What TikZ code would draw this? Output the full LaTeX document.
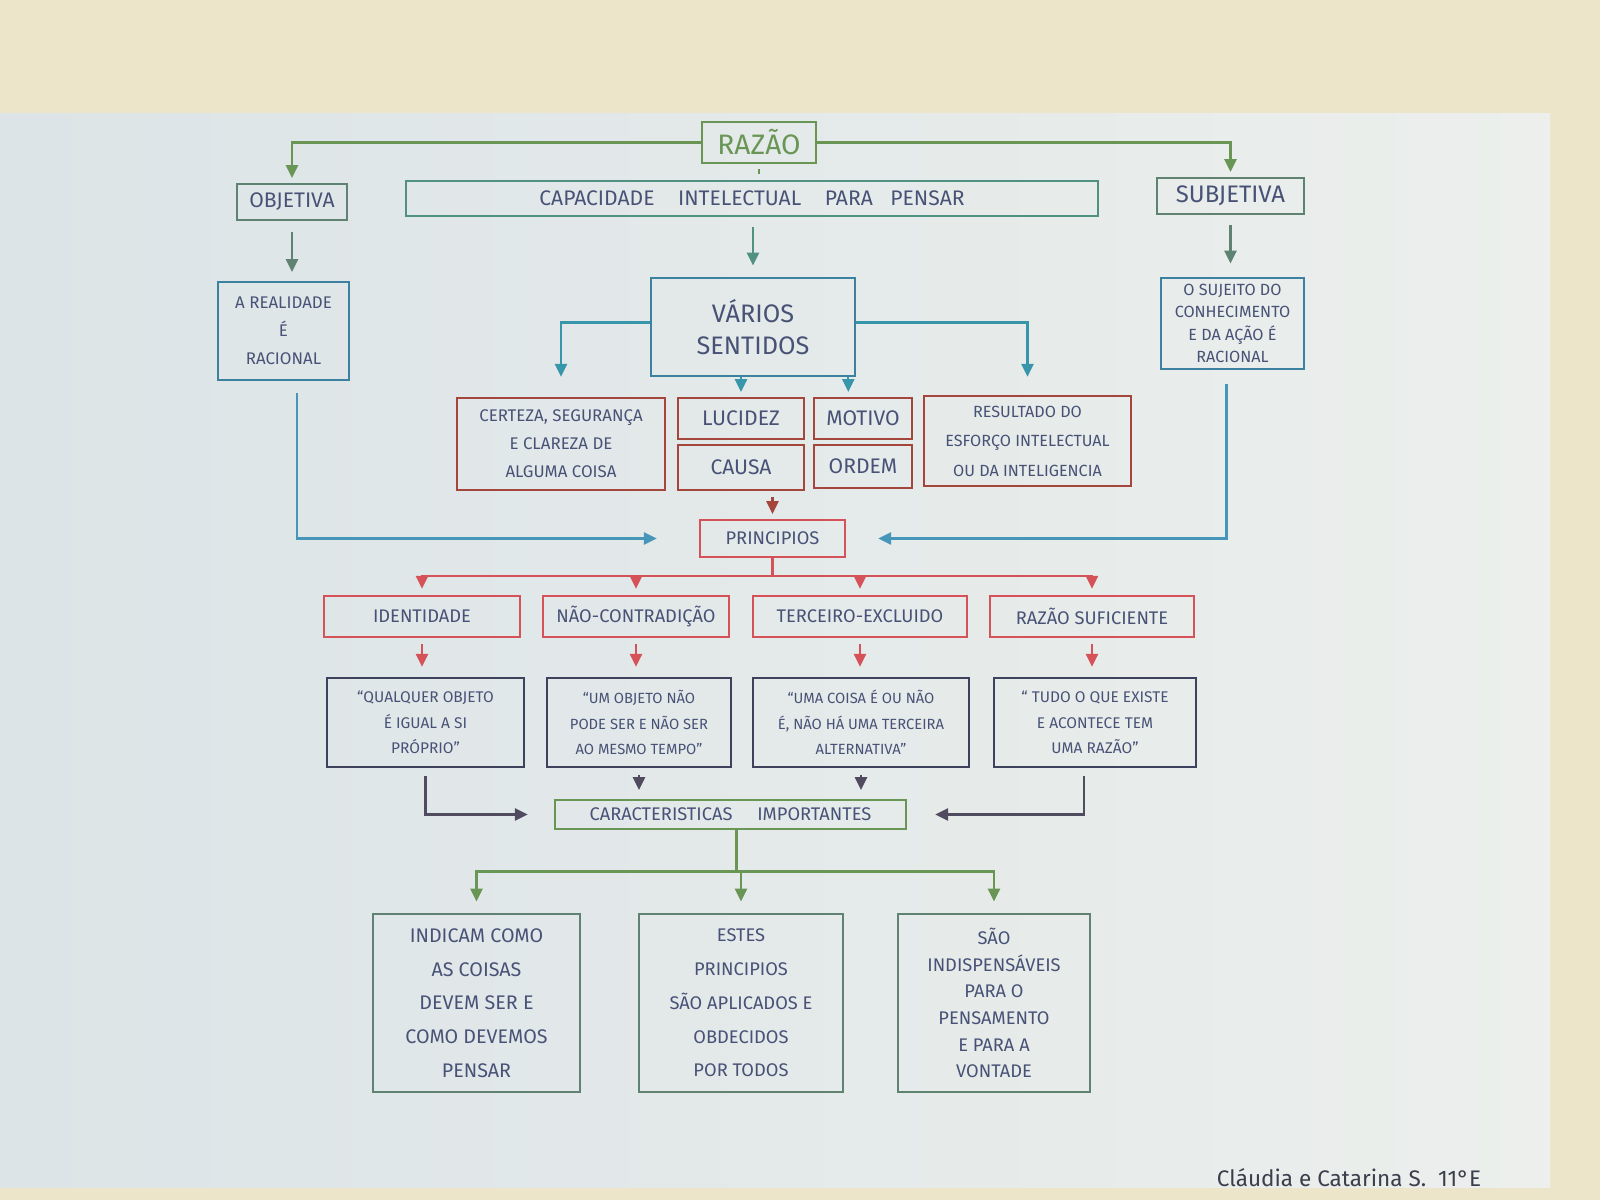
\documentclass[tikz,border=0pt]{standalone}
\usepackage{fontspec}
\setmainfont{Fira Sans}
\usetikzlibrary{arrows.meta}
\definecolor{parede}{RGB}{236,229,202}
\definecolor{folhaA}{RGB}{220,228,231}
\definecolor{folhaB}{RGB}{236,239,236}
\definecolor{tinta}{RGB}{72,82,118}
\definecolor{verde}{RGB}{105,150,85}
\definecolor{verdecinza}{RGB}{95,130,115}
\definecolor{verdeazul}{RGB}{80,145,130}
\definecolor{azul}{RGB}{60,130,160}
\definecolor{ciano}{RGB}{55,150,170}
\definecolor{celeste}{RGB}{70,150,185}
\definecolor{tijolo}{RGB}{165,70,60}
\definecolor{vermelho}{RGB}{212,82,88}
\definecolor{ardosia}{RGB}{62,66,92}
\definecolor{cinza}{RGB}{80,75,95}
\definecolor{assin}{RGB}{60,62,75}
\tikzset{
  caixa/.style={draw, line width=1.8pt, align=center, text=tinta, inner sep=2pt},
  seta/.style={line width=1.7pt, -{Triangle[width=0.3cm,length=0.32cm]}},
  linha/.style={line width=1.7pt},
}
\begin{document}
\begin{tikzpicture}[x=0.025cm, y=-0.025cm]
    % Fundo e folha
    \fill[parede] (0,0) rectangle (1600,1200);
    \shade[left color=folhaA, right color=folhaB] (0,114) rectangle (1550,1187);
    \useasboundingbox (0,0) rectangle (1600,1200);
    % Razão
    \node[caixa, draw=verde, text=verde, minimum width=2.85cm, minimum height=1.025cm, font=\fontsize{20}{24}\selectfont] (razao) at (759,142.5) {RAZÃO};
    \node[caixa, draw=verdecinza, minimum width=2.75cm, minimum height=0.9cm, font=\fontsize{15}{18}\selectfont] (objetiva) at (292,202) {OBJETIVA};
    \node[caixa, draw=verdeazul, minimum width=17.3cm, minimum height=0.875cm, font=\fontsize{15}{18}\selectfont] (capacidade) at (752,198.5) {CAPACIDADE\hspace{0.45cm} INTELECTUAL\hspace{0.45cm} PARA\hspace{0.3cm} PENSAR};
    \node[caixa, draw=verdecinza, minimum width=3.675cm, minimum height=0.9cm, font=\fontsize{17}{20}\selectfont] (subjetiva) at (1230.5,196) {SUBJETIVA};
    % Segunda linha
    \node[caixa, draw=azul, minimum width=3.275cm, minimum height=2.45cm, font=\fontsize{12}{20}\selectfont] (arealidade) at (283.5,331) {A REALIDADE\\ É\\ RACIONAL};
    \node[caixa, draw=azul, minimum width=5.1cm, minimum height=2.45cm, font=\fontsize{18}{23}\selectfont] (varios) at (753,327) {VÁRIOS\\ SENTIDOS};
    \node[caixa, draw=azul, minimum width=3.575cm, minimum height=2.275cm, font=\fontsize{11.5}{16}\selectfont] (sujeito) at (1232.5,323.5) {O SUJEITO DO\\ CONHECIMENTO\\ E DA AÇÃO É\\ RACIONAL};
    % Vários sentidos
    \node[caixa, draw=tijolo, minimum width=5.2cm, minimum height=2.3cm, font=\fontsize{12}{20}\selectfont] (certeza) at (561,444) {CERTEZA, SEGURANÇA\\ E CLAREZA DE\\ ALGUMA COISA};
    \node[caixa, draw=tijolo, minimum width=3.15cm, minimum height=1.025cm, font=\fontsize{15}{18}\selectfont] (lucidez) at (741,418.5) {LUCIDEZ};
    \node[caixa, draw=tijolo, minimum width=2.45cm, minimum height=1.025cm, font=\fontsize{15}{18}\selectfont] (motivo) at (863,418.5) {MOTIVO};
    \node[caixa, draw=tijolo, minimum width=3.15cm, minimum height=1.125cm, font=\fontsize{15}{18}\selectfont] (causa) at (741,467.5) {CAUSA};
    \node[caixa, draw=tijolo, minimum width=2.45cm, minimum height=1.075cm, font=\fontsize{15}{18}\selectfont] (ordem) at (863,466.5) {ORDEM};
    \node[caixa, draw=tijolo, minimum width=5.175cm, minimum height=2.25cm, font=\fontsize{11.5}{21}\selectfont] (resultado) at (1027.5,441) {RESULTADO DO\\ ESFORÇO INTELECTUAL\\ OU DA INTELIGENCIA};
    % Princípios
    \node[caixa, draw=vermelho, minimum width=3.625cm, minimum height=0.925cm, font=\fontsize{13}{16}\selectfont] (principios) at (772.5,538.5) {PRINCIPIOS};
    \node[caixa, draw=vermelho, minimum width=4.9cm, minimum height=1.025cm, font=\fontsize{13}{16}\selectfont] (identidade) at (422,616.5) {IDENTIDADE};
    \node[caixa, draw=vermelho, minimum width=4.65cm, minimum height=1.025cm, font=\fontsize{13}{16}\selectfont] (naocontradicao) at (636,616.5) {NÃO-CONTRADIÇÃO};
    \node[caixa, draw=vermelho, minimum width=5.35cm, minimum height=1.025cm, font=\fontsize{13}{16}\selectfont] (terceiro) at (860,616.5) {TERCEIRO-EXCLUIDO};
    \node[caixa, draw=vermelho, minimum width=5.1cm, minimum height=1.025cm, font=\fontsize{13}{16}\selectfont] (razaosuf) at (1092,616.5) {RAZÃO SUFICIENTE};
    % Enunciados
    \node[caixa, draw=ardosia, minimum width=4.925cm, minimum height=2.225cm, font=\fontsize{11}{18}\selectfont] (q1) at (425.5,722.5) {“QUALQUER OBJETO\\ É IGUAL A SI\\ PRÓPRIO”};
    \node[caixa, draw=ardosia, minimum width=4.6cm, minimum height=2.225cm, font=\fontsize{10.5}{18}\selectfont] (q2) at (639,722.5) {“UM OBJETO NÃO\\ PODE SER E NÃO SER\\ AO MESMO TEMPO”};
    \node[caixa, draw=ardosia, minimum width=5.4cm, minimum height=2.225cm, font=\fontsize{10.5}{18}\selectfont] (q3) at (861,722.5) {“UMA COISA É OU NÃO\\ É, NÃO HÁ UMA TERCEIRA\\ ALTERNATIVA”};
    \node[caixa, draw=ardosia, minimum width=5.05cm, minimum height=2.225cm, font=\fontsize{11}{18}\selectfont] (q4) at (1095,722.5) {“ TUDO O QUE EXISTE\\ E ACONTECE TEM\\ UMA RAZÃO”};
    % Características
    \node[caixa, draw=verde, minimum width=8.775cm, minimum height=0.725cm, font=\fontsize{13}{16}\selectfont] (caract) at (730.5,814.5) {CARACTERISTICAS\hspace{0.5cm} IMPORTANTES};
    \node[caixa, draw=verdecinza, minimum width=5.175cm, minimum height=4.45cm, font=\fontsize{14}{24}\selectfont] (b1) at (476.5,1003) {INDICAM COMO\\ AS COISAS\\ DEVEM SER E\\ COMO DEVEMOS\\ PENSAR};
    \node[caixa, draw=verdecinza, minimum width=5.1cm, minimum height=4.45cm, font=\fontsize{13}{24}\selectfont] (b2) at (741,1003) {ESTES\\ PRINCIPIOS\\ SÃO APLICADOS E\\ OBDECIDOS\\ POR TODOS};
    \node[caixa, draw=verdecinza, minimum width=4.8cm, minimum height=4.45cm, font=\fontsize{13}{19}\selectfont] (b3) at (994,1003) {SÃO\\ INDISPENSÁVEIS\\ PARA O\\ PENSAMENTO\\ E PARA A\\ VONTADE};
    % Assinatura
    \node[text=assin, font=\fontsize{16}{19}\selectfont] (assinatura) at (1349,1178) {Cláudia e Catarina S.\ \ 11°E};

    % Ligações da razão
    \draw[seta, verde, shorten >=0.12cm] (razao.west) -| (objetiva.north);
    \draw[seta, verde, shorten >=0.12cm] (razao.east) -| (subjetiva.north);
    \draw[linha, verde, shorten <=0.12cm, shorten >=0.15cm] (razao.south) -- (razao.south |- capacidade.north);
    \draw[seta, verdeazul, shorten <=0.25cm, shorten >=0.28cm] (capacidade.south -| varios.north) -- (varios.north);
    \draw[seta, verdecinza, shorten <=0.28cm, shorten >=0.22cm] (objetiva.south) -- (objetiva.south |- arealidade.north);
    \draw[seta, verdecinza, shorten <=0.25cm, shorten >=0.33cm] (subjetiva.south) -- (subjetiva.south |- sujeito.north);
    % Sentidos
    \draw[seta, ciano, shorten >=0.5cm] ([yshift=0.11cm]varios.west) -| (certeza.north);
    \draw[seta, ciano, shorten >=0.45cm] ([yshift=0.11cm]varios.east) -| (resultado.north);
    \draw[seta, ciano, shorten >=0.12cm] (varios.south -| lucidez.north) -- (lucidez.north);
    \draw[seta, ciano, shorten >=0.12cm] ([xshift=-0.2cm]varios.south east) -- ([xshift=-0.2cm]varios.south east |- motivo.north);
    \draw[seta, tijolo, shorten <=0.15cm, shorten >=0.12cm] (causa.south -| principios.north) -- (principios.north);
    \draw[seta, celeste, shorten <=0.3cm, shorten >=1.05cm] ([xshift=0.33cm]arealidade.south) |- (principios.west);
    \draw[seta, celeste, shorten <=0.35cm, shorten >=0.8cm] ([xshift=-0.15cm]sujeito.south) |- (principios.east);
    % Princípios
    \foreach \p in {identidade, naocontradicao, terceiro, razaosuf}
      \draw[seta, vermelho, shorten >=0.15cm] (principios.south) -- ++(0,-0.44cm) -| (\p.north);
    \foreach \a/\b in {identidade/q1, naocontradicao/q2, terceiro/q3, razaosuf/q4}
      \draw[seta, vermelho, shorten <=0.15cm, shorten >=0.25cm] (\a.south) -- (\a.south |- \b.north);
    % Enunciados para características
    \draw[seta, cinza, shorten <=0.2cm, shorten >=0.65cm] (q1.south) |- (caract.west);
    \draw[seta, cinza, shorten <=0.16cm, shorten >=0.22cm] (q2.south) -- (q2.south |- caract.north);
    \draw[seta, cinza, shorten <=0.16cm, shorten >=0.22cm] (q3.south) -- (q3.south |- caract.north);
    \draw[seta, cinza, shorten <=0.2cm, shorten >=0.7cm] ([xshift=-0.28cm]q4.south) |- (caract.east);
    \foreach \c in {b1, b2, b3}
      \draw[seta, verde, shorten >=0.28cm] ([xshift=0.15cm]caract.south) -- ++(0,-1.03cm) -| (\c.north);
\end{tikzpicture}
\end{document}
